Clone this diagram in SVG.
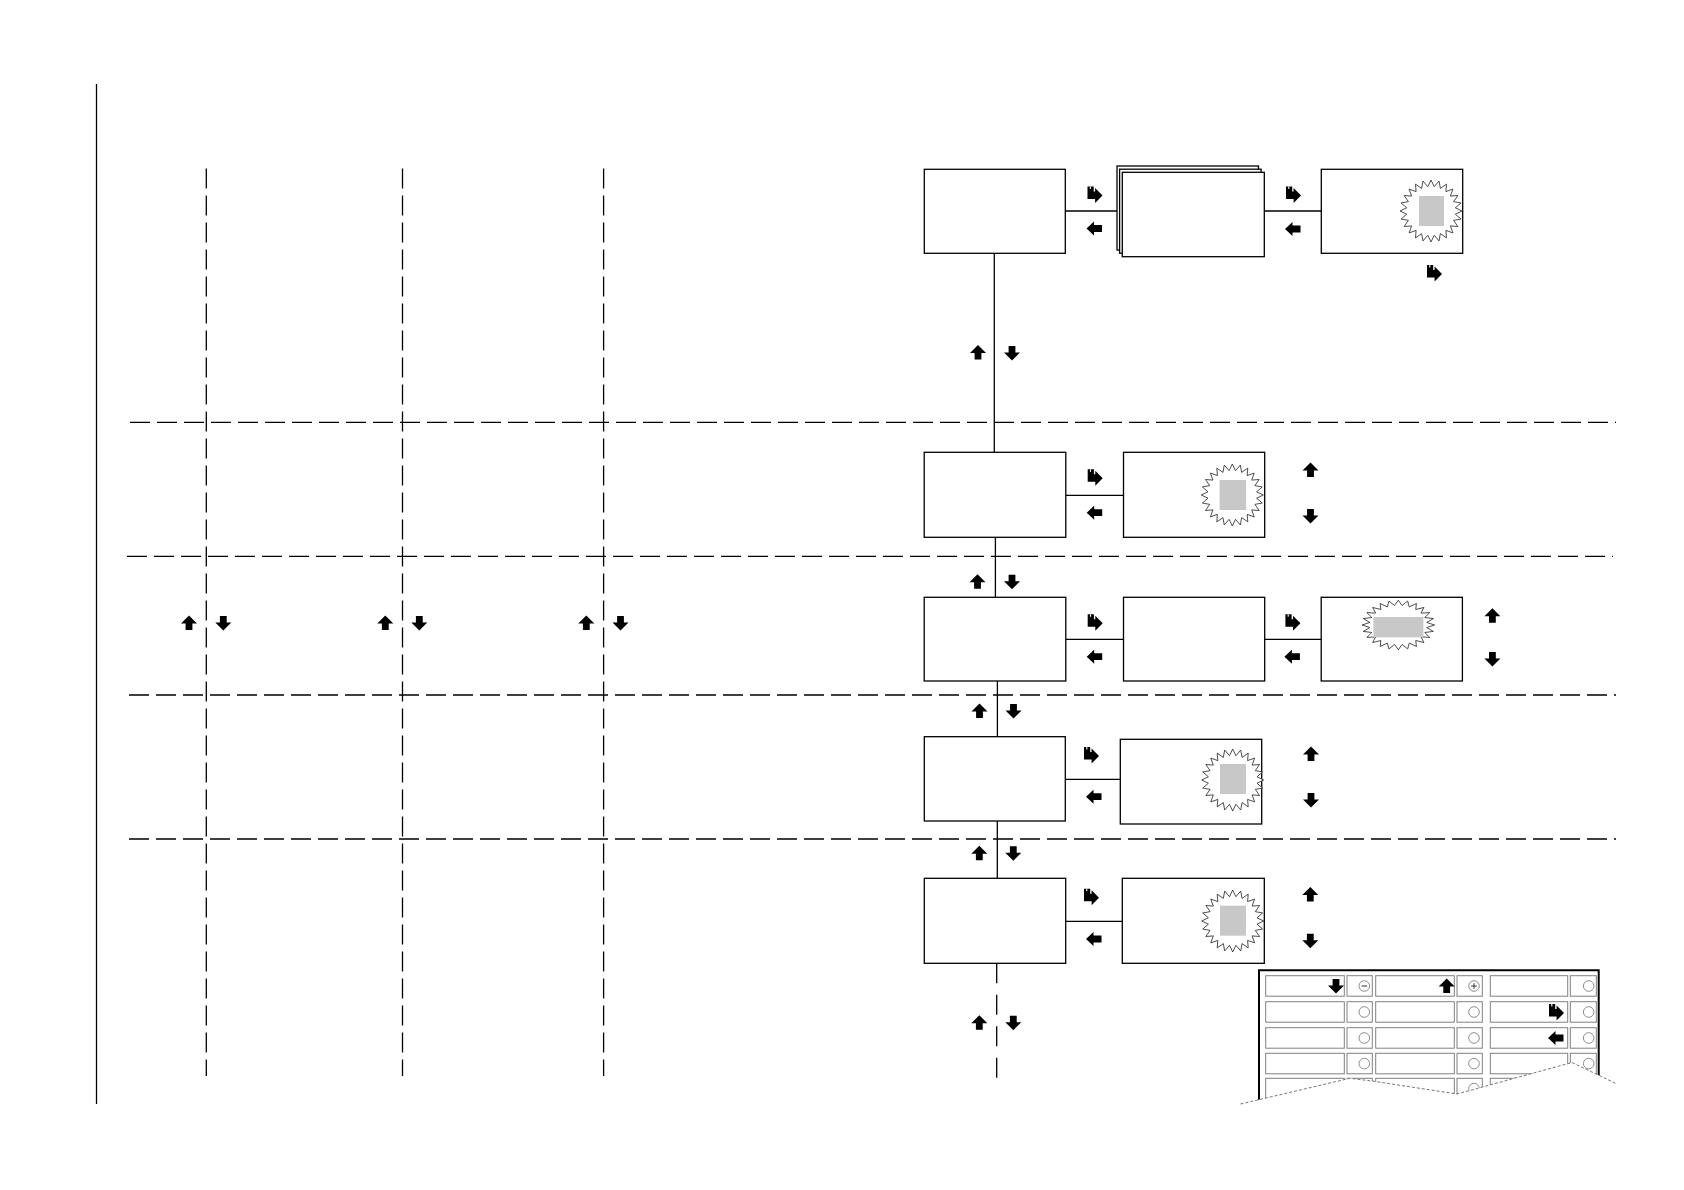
<svg xmlns="http://www.w3.org/2000/svg" xmlns:xlink="http://www.w3.org/1999/xlink" width="1684" height="1190" viewBox="0 0 1684 1190">
<style>
.box{fill:#fff;stroke:#000;stroke-width:1.3}
.ln{fill:none;stroke:#000;stroke-width:1.3}
.dash{fill:none;stroke:#000;stroke-width:1.3;stroke-dasharray:20 7}
.ar{fill:#000}
.burst{fill:#fff;stroke:#222;stroke-width:0.8}
.gray{fill:#c8c8c8}
.cell{fill:#fff;stroke:#808080;stroke-width:1}
.circ{fill:#fff;stroke:#808080;stroke-width:0.9}
</style>
<defs>
<polygon id="up" class="ar" points="0,-7.5 8,0.5 3.4,0.5 3.4,7 -3.4,7 -3.4,0.5 -8,0.5"/>
<polygon id="down" class="ar" points="0,7.5 8,-0.5 3.4,-0.5 3.4,-7 -3.4,-7 -3.4,-0.5 -8,-0.5"/>
<polygon id="left" class="ar" points="-8,0 -0.5,-7 -0.5,-3.4 7.5,-3.4 7.5,3.4 -0.5,3.4 -0.5,7"/>
<g id="turn"><polygon class="ar" points="-7,-8 -0.8,-8 -0.8,-3 0.6,-3 0.6,-6.5 8,1 0.6,8.5 0.6,4.5 -7,4.5"/><line x1="-4.2" y1="-8" x2="-4.2" y2="-5.5" stroke="#fff" stroke-width="1.1"/></g>
<polygon id="burst" class="burst" vector-effect="non-scaling-stroke" points="31,0 24.3,3.2 29.94,8.02 22.6,9.36 26.85,15.5 19.4,14.9 21.92,21.92 14.9,19.4 15.5,26.85 9.36,22.6 8.02,29.94 3.2,24.3 0,31 -3.2,24.3 -8.02,29.94 -9.36,22.6 -15.5,26.85 -14.9,19.4 -21.92,21.92 -19.4,14.9 -26.85,15.5 -22.6,9.36 -29.94,8.02 -24.3,3.2 -31,0 -24.3,-3.2 -29.94,-8.02 -22.6,-9.36 -26.85,-15.5 -19.4,-14.9 -21.92,-21.92 -14.9,-19.4 -15.5,-26.85 -9.36,-22.6 -8.02,-29.94 -3.2,-24.3 0,-31 3.2,-24.3 8.02,-29.94 9.36,-22.6 15.5,-26.85 14.9,-19.4 21.92,-21.92 19.4,-14.9 26.85,-15.5 22.6,-9.36 29.94,-8.02 24.3,-3.2"/>
</defs>

<g id="frame">
<line class="ln" x1="96.5" y1="84" x2="96.5" y2="1104"/>
<line class="dash" x1="206.3" y1="168.6" x2="206.3" y2="1076"/>
<line class="dash" x1="402.5" y1="168.6" x2="402.5" y2="1076"/>
<line class="dash" x1="603.6" y1="168.6" x2="603.6" y2="1076"/>
<line class="dash" x1="130" y1="422.3" x2="1616" y2="422.3"/>
<line class="dash" x1="127" y1="556.3" x2="1613" y2="556.3"/>
<line class="dash" x1="129" y1="695" x2="1616" y2="695"/>
<line class="dash" x1="129" y1="839" x2="1616" y2="839"/>
<use href="#up" x="189" y="623"/><use href="#down" x="223.3" y="623"/>
<use href="#up" x="385.3" y="623"/><use href="#down" x="419.3" y="623"/>
<use href="#up" x="586.3" y="623"/><use href="#down" x="620.5" y="623"/>
</g>

<g id="connectors">
<line class="ln" x1="994.3" y1="253.3" x2="994.3" y2="452.3"/>
<line class="ln" x1="1065.3" y1="211" x2="1117" y2="211"/>
<line class="ln" x1="1264.3" y1="211" x2="1321.3" y2="211"/>
<line class="ln" x1="995.4" y1="537.3" x2="995.4" y2="597.3"/>
<line class="ln" x1="1065.8" y1="495.3" x2="1123.5" y2="495.3"/>
<line class="ln" x1="997.4" y1="681" x2="997.4" y2="736.7"/>
<line class="ln" x1="1065.8" y1="639.3" x2="1123.5" y2="639.3"/>
<line class="ln" x1="1264.7" y1="639.3" x2="1321.2" y2="639.3"/>
<line class="ln" x1="997.3" y1="821" x2="997.3" y2="878.3"/>
<line class="ln" x1="1065.3" y1="779.3" x2="1120.3" y2="779.3"/>
<line class="ln" x1="1065.7" y1="921.3" x2="1122.3" y2="921.3"/>
<line class="ln" x1="996.7" y1="963.3" x2="996.7" y2="1078" stroke-dasharray="20 11.5"/>
<use href="#turn" x="1094.5" y="194.5"/><use href="#left" x="1094.5" y="228.5"/>
<use href="#turn" x="1293" y="194.5"/><use href="#left" x="1293" y="229"/>
<use href="#turn" x="1434" y="273"/>
<use href="#up" x="978" y="352.5"/><use href="#down" x="1012" y="353"/>
<use href="#turn" x="1094.7" y="477.3"/><use href="#left" x="1094.7" y="512.7"/>
<use href="#up" x="1310.5" y="470"/><use href="#down" x="1310.5" y="516"/>
<use href="#up" x="977.5" y="581.7"/><use href="#down" x="1012" y="581.7"/>
<use href="#turn" x="1094.7" y="622.3"/><use href="#left" x="1094.7" y="656.7"/>
<use href="#turn" x="1292.4" y="622.3"/><use href="#left" x="1292.4" y="656.7"/>
<use href="#up" x="1492.4" y="615.7"/><use href="#down" x="1492.4" y="659"/>
<use href="#up" x="979.5" y="711"/><use href="#down" x="1013.5" y="711"/>
<use href="#turn" x="1091" y="755"/><use href="#left" x="1094" y="796.7"/>
<use href="#up" x="1311" y="754"/><use href="#down" x="1311" y="800"/>
<use href="#up" x="979.3" y="853.3"/><use href="#down" x="1013.3" y="853.3"/>
<use href="#turn" x="1091" y="896.7"/><use href="#left" x="1094" y="939"/>
<use href="#up" x="1310.3" y="894.6"/><use href="#down" x="1310.3" y="940.8"/>
<use href="#up" x="979.3" y="1022.7"/><use href="#down" x="1013.3" y="1022.7"/>
</g>

<g id="n1"><rect class="box" x="924.3" y="169.3" width="141" height="84"/></g>
<g id="n2">
<rect class="box" x="1117" y="166" width="141.5" height="84"/>
<rect class="box" x="1119.6" y="169.2" width="141.5" height="84"/>
<rect class="box" x="1122.3" y="172.3" width="142" height="84.4"/>
</g>
<g id="n3"><rect class="box" x="1321.3" y="169.3" width="141.4" height="84"/>
<use href="#burst" transform="translate(1431,211)"/><rect class="gray" x="1419" y="196" width="25" height="30"/></g>

<g id="n4"><rect class="box" x="924.2" y="452.3" width="141.6" height="85"/></g>
<g id="n5"><rect class="box" x="1123.5" y="452.3" width="141.2" height="85"/>
<use href="#burst" transform="translate(1232.3,495)"/><rect class="gray" x="1219.6" y="480" width="26.5" height="30"/></g>

<g id="n6"><rect class="box" x="924.2" y="597.3" width="141.6" height="83.7"/></g>
<g id="n7"><rect class="box" x="1123.5" y="597.3" width="141.2" height="83.7"/></g>
<g id="n8"><rect class="box" x="1321.2" y="597.3" width="141.2" height="83.7"/>
<use href="#burst" transform="translate(1398.3,625) scale(1.17,0.8)"/><rect class="gray" x="1373.4" y="617" width="50" height="20.3"/></g>

<g id="n9"><rect class="box" x="924.3" y="736.7" width="141" height="84.3"/></g>
<g id="n10"><rect class="box" x="1120.3" y="739.3" width="141.4" height="84.7"/>
<use href="#burst" transform="translate(1232.7,780)"/><rect class="gray" x="1220" y="764" width="26" height="30"/></g>

<g id="n11"><rect class="box" x="924.3" y="878.3" width="141.4" height="85"/></g>
<g id="n12"><rect class="box" x="1122.3" y="878.3" width="142" height="85"/>
<use href="#burst" transform="translate(1232.7,921)"/><rect class="gray" x="1220" y="905.7" width="26" height="30"/></g>

<g id="panel">
<path d="M1259,1110 V970.3 H1598.7 V1100" fill="none" stroke="#000" stroke-width="2"/>
<g id="prow1">
<rect class="cell" x="1265.7" y="975.7" width="78.6" height="20.5"/><rect class="cell" x="1347" y="975.7" width="25.3" height="20.5"/>
<rect class="cell" x="1375.7" y="975.7" width="78.6" height="20.5"/><rect class="cell" x="1457" y="975.7" width="25.3" height="20.5"/>
<rect class="cell" x="1490.3" y="975.7" width="77.4" height="20.5"/><rect class="cell" x="1570.3" y="975.7" width="26" height="20.5"/>
</g>
<use href="#prow1" y="26"/><use href="#prow1" y="52"/><use href="#prow1" y="77.6"/><use href="#prow1" y="102.6"/>
<g id="pcirc">
<circle class="circ" cx="1364.3" cy="986" r="5.3"/><circle class="circ" cx="1474" cy="986" r="5.3"/><circle class="circ" cx="1588.7" cy="986" r="5.3"/>
</g>
<use href="#pcirc" y="26"/><use href="#pcirc" y="52"/><use href="#pcirc" y="77.6"/><use href="#pcirc" y="102.6"/>
<line x1="1361.5" y1="986" x2="1367.1" y2="986" stroke="#333" stroke-width="1"/>
<line x1="1471.2" y1="986" x2="1476.8" y2="986" stroke="#333" stroke-width="1"/>
<line x1="1474" y1="983.2" x2="1474" y2="988.8" stroke="#333" stroke-width="1"/>
<use href="#down" x="1336" y="986"/>
<use href="#up" x="1446.7" y="986"/>
<use href="#turn" x="1556" y="1012"/>
<use href="#left" x="1556" y="1038"/>
<polygon fill="#fff" points="1240.5,1104 1350,1078.3 1372,1081 1457,1094 1572,1062.5 1617,1084 1640,1084 1640,1130 1230,1130"/>
<polyline points="1240.5,1104 1350,1078.3 1372,1081 1457,1094 1572,1062.5 1617,1084" fill="none" stroke="#777" stroke-width="1" stroke-dasharray="3 2"/>
</g>
</svg>
